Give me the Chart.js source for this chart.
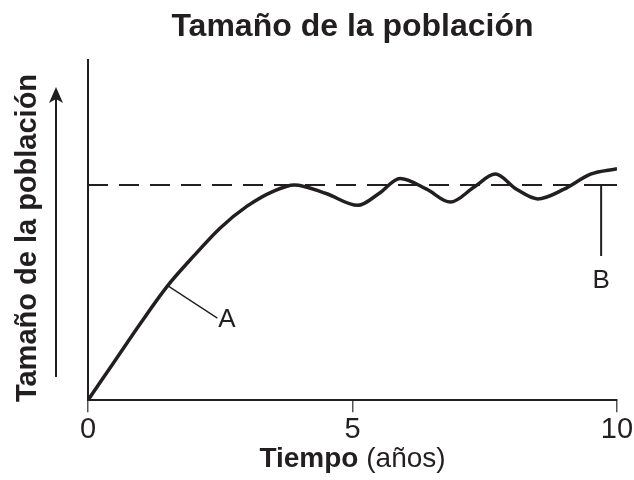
<!DOCTYPE html>
<html>
<head>
<meta charset="utf-8">
<script src="https://cdn.jsdelivr.net/npm/chart.js@4/dist/chart.umd.min.js"></script>
<style>
  html, body { margin: 0; padding: 0; background: #fff; }
  #wrap { width: 634px; height: 480px; }
</style>
</head>
<body>
<div id="wrap"><canvas id="c"></canvas></div>
<script>
const title = "Tamaño de la población"
const yTitle = "Tamaño de la población"
const xTitleBold = "Tiempo"
const xTitleRest = " (años)"

// años
const years = [0, 0.5, 1, 1.5, 2, 2.5, 3, 3.5, 3.9, 4.5, 5.1, 5.5, 5.9, 6.4, 6.85, 7.3, 7.7, 8.1, 8.5, 9, 9.5, 10]
// tamaño relativo (capacidad de carga = 100)
const population = [0, 18, 36, 53, 67, 80, 90, 97, 100, 96, 90.5, 96, 103, 98, 92, 99, 105, 98, 93.5, 98, 105, 107.5]
const capacity = 100
const capacityLine = [{ x: 0, y: capacity }, { x: 10, y: capacity }]
const xTicks = [0, 5, 10]

// punto A en la curva y marcador B
const markA = { x: 1.5, y: 53, label: "A" }
const markB = { x: 9.7, yTop: capacity, yBottom: 67, label: "B" }

const ink = "#231f20"
const font = "'Liberation Sans', Arial, sans-serif"

const annotations = {
  id: "annotations",
  afterDraw(chart) {
    const { ctx, chartArea, scales } = chart
    const x = scales.x, y = scales.y
    ctx.save()
    ctx.fillStyle = ink
    ctx.strokeStyle = ink

    // title
    ctx.font = "bold 32px " + font
    ctx.textAlign = "center"
    ctx.textBaseline = "alphabetic"
    ctx.fillText(title, (chartArea.left + chartArea.right) / 2, 36)

    // x axis title, mixed weight
    ctx.font = "bold 28px " + font
    const wb = ctx.measureText(xTitleBold).width
    ctx.font = "28px " + font
    const wr = ctx.measureText(xTitleRest).width
    let sx = (chartArea.left + chartArea.right) / 2 - (wb + wr) / 2
    ctx.textAlign = "left"
    ctx.font = "bold 28px " + font
    ctx.fillText(xTitleBold, sx, 467)
    ctx.font = "28px " + font
    ctx.fillText(xTitleRest, sx + wb, 467)

    // y axis title
    ctx.save()
    ctx.translate(36, 238)
    ctx.rotate(-Math.PI / 2)
    ctx.font = "bold 29px " + font
    ctx.textAlign = "center"
    ctx.fillText(yTitle, 0, 0)
    ctx.restore()

    // arrow
    ctx.lineWidth = 2
    ctx.beginPath()
    ctx.moveTo(56, 377)
    ctx.lineTo(56, 98)
    ctx.stroke()
    ctx.beginPath()
    ctx.moveTo(56, 87)
    ctx.lineTo(49, 103)
    ctx.lineTo(56, 99)
    ctx.lineTo(63, 103)
    ctx.closePath()
    ctx.fill()

    // A leader
    ctx.lineWidth = 1.3
    const ax = x.getPixelForValue(markA.x), ay = y.getPixelForValue(markA.y)
    ctx.beginPath()
    ctx.moveTo(ax + 1, ay)
    ctx.lineTo(ax + 50, ay + 32)
    ctx.stroke()
    ctx.font = "26px " + font
    ctx.textAlign = "left"
    ctx.textBaseline = "middle"
    ctx.fillText(markA.label, ax + 51, ay + 34)

    // B marker
    const bx = x.getPixelForValue(markB.x)
    ctx.lineWidth = 2
    ctx.beginPath()
    ctx.moveTo(bx, y.getPixelForValue(markB.yTop))
    ctx.lineTo(bx, y.getPixelForValue(markB.yBottom))
    ctx.moveTo(bx, y.getPixelForValue(markB.yTop))
    ctx.lineTo(chartArea.right, y.getPixelForValue(markB.yTop))
    ctx.stroke()
    ctx.textAlign = "center"
    ctx.fillText(markB.label, bx, y.getPixelForValue(markB.yBottom) + 25)

    ctx.restore()
  }
}

new Chart(document.getElementById("c"), {
  type: "line",
  data: {
    datasets: [
      {
        label: "Capacidad",
        data: capacityLine,
        borderColor: ink,
        borderWidth: 2,
        borderDash: [20, 11],
        pointRadius: 0,
        fill: false,
      },
      {
        label: "Población",
        data: years.map((t, i) => ({ x: t, y: population[i] })),
        borderColor: ink,
        borderWidth: 3.5,
        pointRadius: 0,
        fill: false,
        cubicInterpolationMode: "monotone",
      }
    ]
  },
  options: {
    responsive: true,
    maintainAspectRatio: false,
    animation: false,
    layout: { padding: { left: 80, right: 17, top: 60, bottom: 33 } },
    plugins: {
      legend: { display: false },
      title: { display: false },
      tooltip: { enabled: false },
    },
    scales: {
      x: {
        type: "linear",
        min: 0,
        max: 10,
        afterBuildTicks: (axis) => { axis.ticks = xTicks.map(v => ({ value: v })) },
        grid: { display: true, drawOnChartArea: false, drawTicks: true, tickLength: 12, color: "#555", lineWidth: 1.5 },
        border: { display: true, color: ink, width: 2 },
        ticks: { color: ink, font: { family: font, size: 29 }, padding: 0, maxRotation: 0 },
      },
      y: {
        min: 0,
        max: 158,
        grid: { display: false },
        border: { display: true, color: ink, width: 2 },
        ticks: { display: false },
      }
    }
  },
  plugins: [annotations]
});
</script>
</body>
</html>
